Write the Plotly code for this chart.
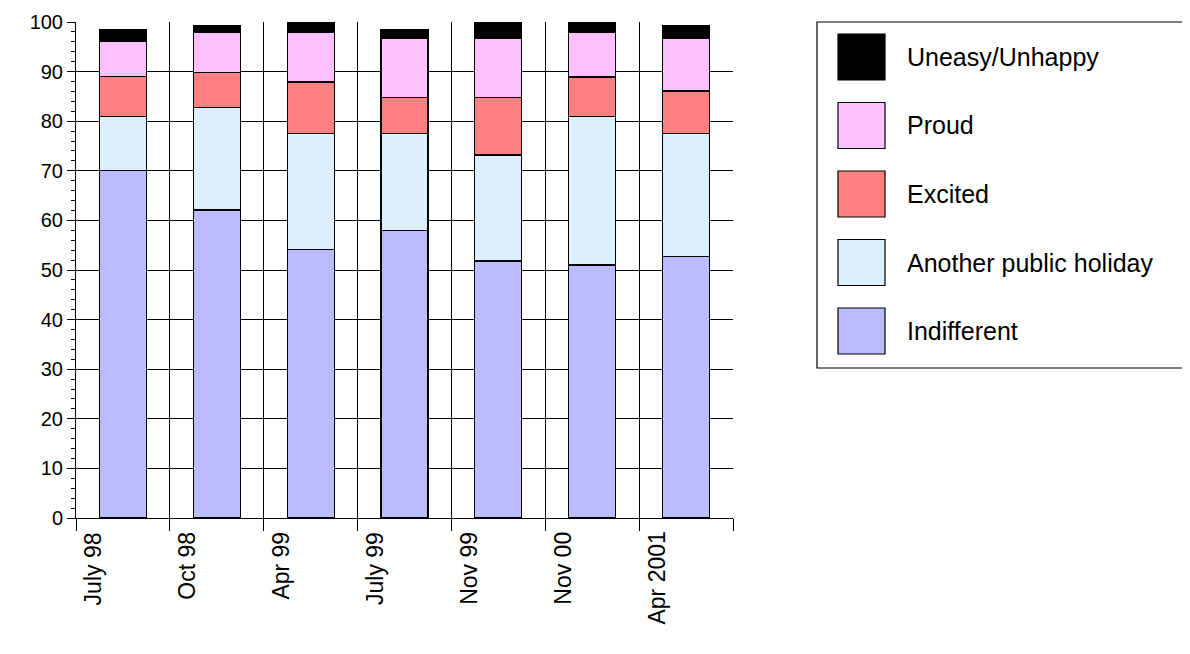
import plotly.graph_objects as go

periods = ["July 98", "Oct 98", "Apr 99", "July 99", "Nov 99", "Nov 00", "Apr 2001"]
indifferent = [70, 62.1, 54.2, 57.9, 51.8, 51, 52.8]
another = [11, 20.6, 23.4, 19.7, 21.4, 30, 24.8]
excited = [8, 7.2, 10.3, 7.1, 11.5, 7.9, 8.5]
proud = [7, 8.1, 10.1, 11.9, 11.9, 9.1, 10.5]
uneasy = [2.4, 1.2, 2, 1.8, 3.4, 2, 2.6]

series = [
    ("Indifferent", indifferent, "#bbbbff"),
    ("Another public holiday", another, "#ddeeff"),
    ("Excited", excited, "#ff8080"),
    ("Proud", proud, "#ffc0ff"),
    ("Uneasy/Unhappy", uneasy, "#000000"),
]

xs = [i + 0.5 for i in range(len(periods))]
fig = go.Figure()
for name, vals, col in series:
    fig.add_bar(x=xs, y=vals, name=name, width=0.5, marker=dict(color=col, line=dict(color="black", width=1.2)))

font = dict(family="Liberation Sans, Arial", size=20, color="black")
label_font = dict(family="Liberation Sans, Arial", size=23, color="black")
legend_font = dict(family="Liberation Sans, Arial", size=25, color="black")
# page shows the figure with an 8px offset, so margins are reduced by 8
fig.update_layout(
    barmode="stack", width=1190, height=654, showlegend=False,
    plot_bgcolor="white", paper_bgcolor="white", font=font,
    margin=dict(l=68, r=465, t=14, b=144, autoexpand=False),
    xaxis=dict(range=[0, 7], tickvals=list(range(8)), showticklabels=False,
               ticks="outside", ticklen=12, tickcolor="black", showgrid=True,
               gridcolor="black", gridwidth=1.2, showline=True, linecolor="black", zeroline=False),
    yaxis=dict(range=[0, 100], dtick=10, ticks="outside", ticklen=8, tickcolor="black",
               showgrid=True, gridcolor="black", gridwidth=1.2, showline=True, linecolor="black",
               zeroline=False, minor=dict(dtick=2, ticks="outside", ticklen=4, tickcolor="black")),
)
for i, p in enumerate(periods):
    fig.add_annotation(x=i + 0.18, y=0, yref="y", text=p, textangle=-90, showarrow=False,
                       xanchor="center", yanchor="top", yshift=-12, font=label_font)

# legend box
def px(x): return (x - 76) / 657
def py(y): return (518 - y) / 496
fig.add_shape(type="rect", xref="paper", yref="paper", x0=px(817), x1=px(1189), y0=py(368), y1=py(22),
              line=dict(color="black", width=1.2), fillcolor="white")
for k, (name, vals, col) in enumerate(reversed(series)):
    cy = 57 + k * 68.5
    fig.add_shape(type="rect", xref="paper", yref="paper", x0=px(838), x1=px(885),
                  y0=py(cy + 23), y1=py(cy - 23), fillcolor=col, line=dict(color="black", width=1.2))
    fig.add_annotation(xref="paper", yref="paper", x=px(905), y=py(cy), text=name, showarrow=False,
                       xanchor="left", yanchor="middle", font=legend_font)

fig.write_html("out.html")
